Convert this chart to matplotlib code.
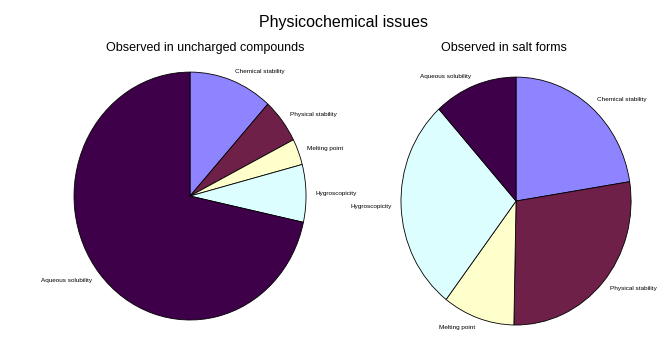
import matplotlib
matplotlib.use("Agg")
import matplotlib.pyplot as plt

plt.rcParams['font.family'] = ['Liberation Sans', 'DejaVu Sans']

# slice labels in drawing order (clockwise from the top)
labels = ["Chemical stability", "Physical stability", "Melting point",
          "Hygroscopicity", "Aqueous solubility"]
colors = ["#8f84ff", "#6e2049", "#ffffcc", "#dcfeff", "#3e0049"]

# shares (%)
uncharged = [11.7, 5.8, 3.4, 7.5, 71.6]
salt_forms = [22.5, 27.8, 10.1, 27.9, 11.7]

fig = plt.figure(figsize=(6.65, 3.41), dpi=100)

ax1 = fig.add_axes([0.1113, 0.0616, 0.3489, 0.727])
ax2 = fig.add_axes([0.603, 0.0469, 0.346, 0.727])

for ax, vals in [(ax1, uncharged), (ax2, salt_forms)]:
    wedges, texts = ax.pie(vals, labels=labels, colors=colors, startangle=90,
                           counterclock=False, labeldistance=1.08,
                           wedgeprops=dict(edgecolor="black", linewidth=0.6),
                           textprops=dict(fontsize=4.6))
    ax.set_aspect('auto')
    ax.set_xlim(-1, 1)
    ax.set_ylim(-1, 1)

fig.text(0.517, 0.935, "Physicochemical issues", ha="center", va="center", fontsize=11.5)
fig.text(0.308, 0.859, "Observed in uncharged compounds", ha="center", va="center", fontsize=9.0)
fig.text(0.758, 0.859, "Observed in salt forms", ha="center", va="center", fontsize=9.0)

fig.savefig("out.png", dpi=100)
